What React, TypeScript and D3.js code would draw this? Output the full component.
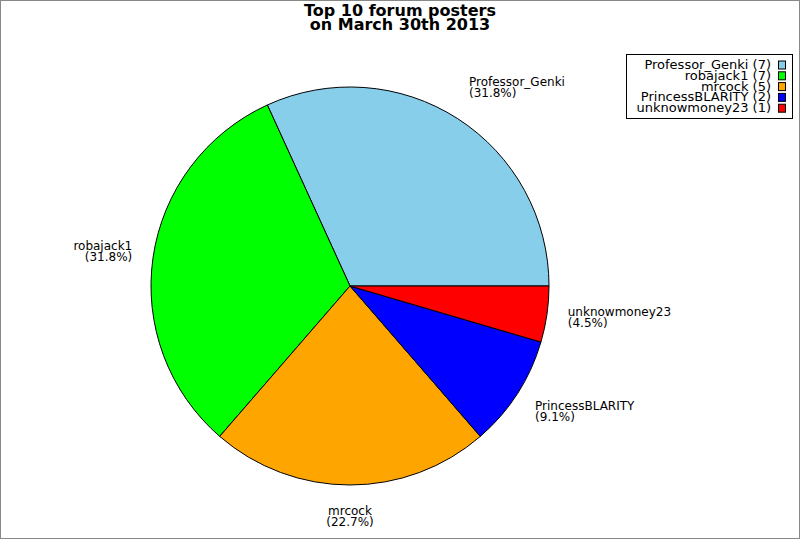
import * as d3 from 'd3';
import React from 'react';

const names = ['Professor_Genki', 'robajack1', 'mrcock', 'PrincessBLARITY', 'unknowmoney23'];
const posts = [7, 7, 5, 2, 1];
const colors = ['#87ceeb', '#00ff00', '#ffa500', '#0000ff', '#ff0000'];

const W = 800;
const H = 540;
const cx = 350;
const cy = 286;
const R = 199;
const labelR = 220;
const font = 'DejaVu Sans, sans-serif';

const App: React.FC = () => {
  const total = d3.sum(posts);
  // counterclockwise from 3 o'clock, like the original
  const pie = d3.pie<number>().sort(null).startAngle(Math.PI / 2).endAngle(Math.PI / 2 - 2 * Math.PI);
  const arcs = pie(posts);
  const arc = d3.arc<d3.PieArcDatum<number>>().innerRadius(0).outerRadius(R);

  const clamp = (v: number) => Math.max(0, Math.min(1, v));
  const lineH = 11;
  const boxH = 2 * lineH + 2;

  return (
    <svg width={W} height={H} style={{ position: 'absolute', left: 0, top: 0 }} fontFamily={font}>
      <rect x={0.5} y={0.5} width={W - 1} height={H - 2} fill="#fff" stroke="#888" />
      <text x={400} y={16} textAnchor="middle" fontWeight="bold" fontSize={16}>Top 10 forum posters</text>
      <text x={400} y={30} textAnchor="middle" fontWeight="bold" fontSize={16}>on March 30th 2013</text>

      <g transform={`translate(${cx},${cy})`}>
        {arcs.map((a, i) => (
          <path key={i} d={arc(a)!} fill={colors[i]} stroke="#000" strokeWidth={1} />
        ))}
      </g>

      {arcs.map((a, i) => {
        const theta = Math.PI / 2 - (a.startAngle + a.endAngle) / 2;
        const px = cx + labelR * Math.cos(theta);
        const py = cy - labelR * Math.sin(theta);
        const hx = clamp(0.5 - Math.cos(theta) * 1.5);
        const vy = clamp(0.5 + Math.sin(theta) * 0.6);
        const top = py - vy * boxH;
        const anchor = hx > 0.75 ? 'end' : hx < 0.25 ? 'start' : 'middle';
        const pct = ((posts[i] / total) * 100).toFixed(1);
        return (
          <text key={i} x={px} fontSize={12} textAnchor={anchor}>
            <tspan x={px} y={top + 9}>{names[i]}</tspan>
            <tspan x={px} y={top + 9 + lineH}>({pct}%)</tspan>
          </text>
        );
      })}

      <rect x={626.5} y={54.5} width={166} height={64} fill="#fff" stroke="#000" />
      {names.map((n, i) => {
        const y = 64.5 + i * 10.8;
        return (
          <g key={i}>
            <text x={771} y={y + 4.5} textAnchor="end" fontSize={13}>{n} ({posts[i]})</text>
            <rect x={778.5} y={y - 3.5} width={7} height={8} fill={colors[i]} stroke="#000" />
          </g>
        );
      })}
    </svg>
  );
};

export default App;
